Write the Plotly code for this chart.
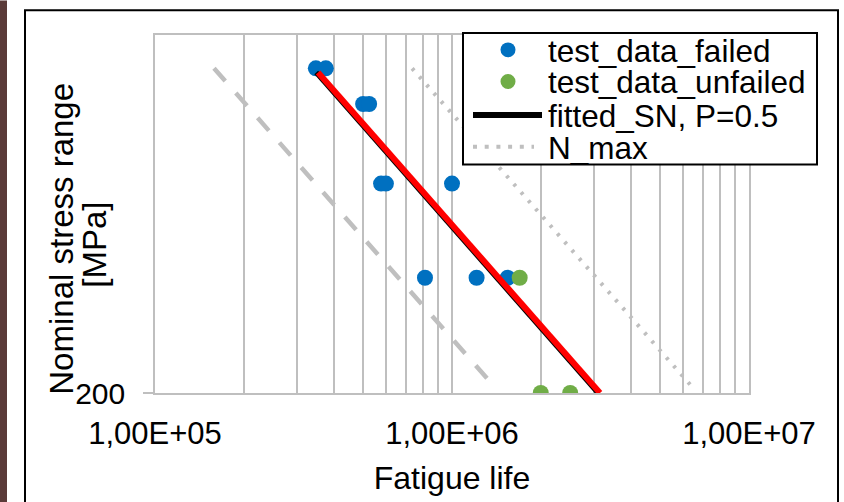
import plotly.graph_objects as go

# ---- data ----
failed_N = [3.48e5, 3.76e5, 5.02e5, 5.26e5, 5.77e5, 5.99e5, 1.00e6, 8.11e5, 1.21e6, 1.54e6]
failed_S = [375, 375, 350, 350, 300, 300, 300, 250, 250, 250]
unfailed_N = [1.69e6, 1.99e6, 2.50e6]
unfailed_S = [250, 200, 200]
fit_N = [3.54e5, 3.15e6]
fit_S = [372, 200]
fit_black_N = [3.49e5, 3.10e6]
design_N = [1.58e5, 1.40e6]
design_S = [375, 202]
nmax_N = [7.34e5, 6.48e6]
nmax_S = [375, 202]

x_major = [1e5, 1e6, 1e7]
x_major_labels = ["1,00E+05", "1,00E+06", "1,00E+07"]
y_ticks = [200]
y_tick_labels = ["200"]

legend_names = ["test_data_failed", "test_data_unfailed", "fitted_SN, P=0.5", "N_max"]

# ---- layout geometry (pixels) ----
W, H = 844, 502
L, R, T, B = 155, 749, 35, 397
FONT = "Liberation Sans, Arial, sans-serif"
GRID = "#BFBFBF"
BLUE = "#0070C0"
GREEN = "#70AD47"
RED = "#FF0000"


def px_x(p):
    return (p - L) / (R - L)


def px_y(p):
    return (B - p) / (B - T)


grid_vals = []
for d in [1e5, 1e6]:
    for k in range(1, 10):
        grid_vals.append(k * d)
grid_vals.append(1e7)
grid_text = [x_major_labels[x_major.index(v)] if v in x_major else "" for v in grid_vals]

fig = go.Figure()
fig.add_trace(go.Scatter(x=failed_N, y=failed_S, mode="markers", name=legend_names[0],
                         marker=dict(color=BLUE, size=16), showlegend=False))
fig.add_trace(go.Scatter(x=unfailed_N, y=unfailed_S, mode="markers", name=legend_names[1],
                         marker=dict(color=GREEN, size=16), showlegend=False))
fig.add_trace(go.Scatter(x=fit_black_N, y=fit_S, mode="lines", name=legend_names[2],
                         line=dict(color="black", width=5), showlegend=False))
fig.add_trace(go.Scatter(x=fit_N, y=fit_S, mode="lines", showlegend=False,
                         line=dict(color=RED, width=6)))
fig.add_trace(go.Scatter(x=design_N, y=design_S, mode="lines", showlegend=False,
                         line=dict(color=GRID, width=4.5, dash="17px,16px")))
fig.add_trace(go.Scatter(x=nmax_N, y=nmax_S, mode="lines", name=legend_names[3],
                         line=dict(color=GRID, width=4, dash="3px,8px"), showlegend=False))

fig.update_layout(
    width=W, height=H,
    margin=dict(l=L, r=W - R, t=T, b=H - B, pad=0),
    paper_bgcolor="white", plot_bgcolor="white",
    font=dict(family=FONT, size=30, color="black"),
    showlegend=False,
    xaxis=dict(type="log", range=[5, 7], tickvals=grid_vals, ticktext=grid_text,
               showgrid=True, gridcolor=GRID, gridwidth=1.5, ticks="",
               showline=True, linecolor=GRID, linewidth=2, mirror=True,
               zeroline=False, tickfont=dict(family=FONT, size=31),
               ticklabelstandoff=12,
               title=dict(text="Fatigue life", font=dict(family=FONT, size=32), standoff=16)),
    yaxis=dict(type="log", range=[2.30103, 2.60206], tickvals=y_ticks, ticktext=y_tick_labels,
               showgrid=False, ticks="outside", ticklen=10, tickcolor=GRID, tickwidth=2,
               showline=True, linecolor=GRID, linewidth=1.5, mirror=True,
               zeroline=False, tickfont=dict(family=FONT, size=30),
               ticklabelstandoff=12),
)

# y-axis title lines
fig.add_annotation(text="Nominal stress range", xref="paper", yref="paper",
                   x=px_x(62), y=px_y(241), textangle=-90, showarrow=False,
                   font=dict(family=FONT, size=33), xanchor="center", yanchor="middle")
fig.add_annotation(text="[MPa]", xref="paper", yref="paper",
                   x=px_x(95), y=px_y(247), textangle=-90, showarrow=False,
                   font=dict(family=FONT, size=33), xanchor="center", yanchor="middle")

# outer chart border and left strip
fig.add_shape(type="rect", xref="paper", yref="paper",
              x0=px_x(25), x1=px_x(838), y0=px_y(520), y1=px_y(10),
              line=dict(color="black", width=2), fillcolor="rgba(0,0,0,0)", layer="below")
fig.add_shape(type="rect", xref="paper", yref="paper",
              x0=px_x(0), x1=px_x(7), y0=px_y(510), y1=px_y(0),
              line=dict(width=0), fillcolor="#5a3a38", layer="below")

# ---- legend (drawn as decoration so its compact spacing matches) ----
leg_x0, leg_x1, leg_y0, leg_y1 = 463, 817, 33, 166
row_y = [50, 82, 116, 148]
sym_cx, sym_r = 508, 7.5
fig.add_shape(type="rect", xref="paper", yref="paper",
              x0=px_x(leg_x0), x1=px_x(leg_x1), y0=px_y(leg_y1), y1=px_y(leg_y0),
              line=dict(color="black", width=2), fillcolor="white", layer="above")
for ry, col in zip(row_y[:2], [BLUE, GREEN]):
    fig.add_shape(type="circle", xref="paper", yref="paper",
                  x0=px_x(sym_cx - sym_r), x1=px_x(sym_cx + sym_r),
                  y0=px_y(ry + sym_r), y1=px_y(ry - sym_r),
                  line=dict(width=0), fillcolor=col, layer="above")
fig.add_shape(type="line", xref="paper", yref="paper",
              x0=px_x(473), x1=px_x(542), y0=px_y(row_y[2]), y1=px_y(row_y[2]),
              line=dict(color="black", width=6), layer="above")
fig.add_shape(type="line", xref="paper", yref="paper",
              x0=px_x(473), x1=px_x(534), y0=px_y(row_y[3]), y1=px_y(row_y[3]),
              line=dict(color=GRID, width=4, dash="4px,7.7px"), layer="above")
for ry, name in zip(row_y, legend_names):
    fig.add_annotation(text=name, xref="paper", yref="paper",
                       x=px_x(546), y=px_y(ry + 1), showarrow=False,
                       xanchor="left", yanchor="middle",
                       font=dict(family=FONT, size=31.5, color="black"))

fig.write_html("out.html")
